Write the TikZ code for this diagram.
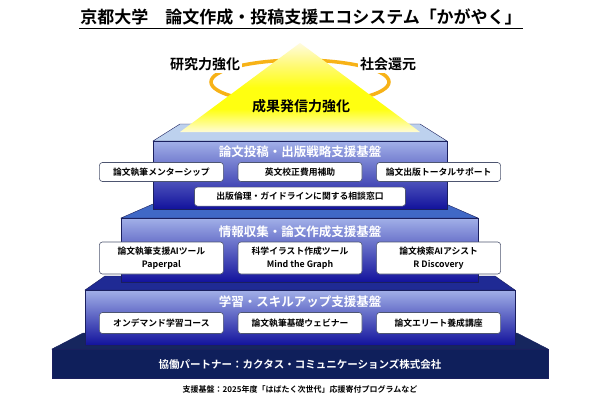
\documentclass[tikz,border=0pt]{standalone}
\usepackage{fontspec}
\setmainfont{Noto Sans CJK JP}[BoldFont={Noto Sans CJK JP Bold}]
\usetikzlibrary{positioning}

\definecolor{uptop}{HTML}{BDD1EE}
\definecolor{midtop}{HTML}{4068C6}
\definecolor{lowtop}{HTML}{1F2A94}
\definecolor{basetop}{HTML}{16265E}
\definecolor{basenavy}{HTML}{0F1F5B}
\definecolor{frontlight}{HTML}{A2B0E8}
\definecolor{frontdark}{HTML}{12129C}
\definecolor{edgeline}{HTML}{1A1F5E}
\definecolor{boxline}{HTML}{4D5570}
\definecolor{ringorange}{HTML}{F7B217}
\definecolor{apexpale}{HTML}{FFFBE0}
\definecolor{midyellow}{HTML}{FFFA70}
\definecolor{brightyellow}{HTML}{FFFF10}
\definecolor{basepale}{HTML}{FFFCD6}

% light of the pyramid top, bottom (25bp) to apex (75bp)
\pgfdeclareverticalshading{lightcone}{100bp}{color(0bp)=(basepale); color(25bp)=(basepale); color(38bp)=(brightyellow); color(50bp)=(brightyellow); color(62bp)=(midyellow); color(75bp)=(apexpale); color(100bp)=(apexpale)}

% one step of the pyramid: x0, x1, y of top face, y of front top, y of front bottom, inset, top colour, front style
\newcommand{\pyrstep}[8]{%
  \fill[#7, draw=edgeline, line width=0.4pt] (#1,#4) -- (#1+#6,#3) -- (#2-#6,#3) -- (#2,#4) -- cycle;
  \path[#8] (#1,#4) rectangle (#2,#5);
}

\begin{document}
\begin{tikzpicture}[x=1pt, y=-1pt,
					box/.style={rectangle, rounded corners=3pt, draw=boxline, line width=0.6pt, fill=white, minimum width=124pt, minimum height=19pt, inner sep=1pt, align=center, font=\bfseries\fontsize{8.8}{12.5}\selectfont},
					tallbox/.style={box, minimum height=32pt},
					layertitle/.style={text=white, font=\bfseries\fontsize{12.5}{14}\selectfont},
					goal/.style={text=black, font=\bfseries\fontsize{14}{16}\selectfont},
					front/.style={top color=frontlight, bottom color=frontdark, draw=edgeline, line width=0.5pt},
					basefront/.style={fill=basenavy, draw=edgeline, line width=0.5pt},
					ring/.style={draw=ringorange, line width=3.5pt}
					]
					\useasboundingbox (0,0) rectangle (600,400);
					\fill[white] (0,0) rectangle (600,400);
					
					% pyramid, bottom to top
					\pyrstep{52}{548}{333}{349}{378}{31}{basetop}{basefront}
					\pyrstep{85}{515}{276}{290}{345}{20}{lowtop}{front}
					\pyrstep{121}{478}{204}{218}{282}{32}{midtop}{front}
					\pyrstep{153}{447}{124}{141}{209}{27}{uptop}{front}
					
					% ring and light
					\draw[ring] (300,82) ellipse [x radius=89, y radius=22];
					\shade[shading=lightcone] (300,43) -- (180,132) -- (420,132) -- cycle;
					
					\node (title) [font=\bfseries\fontsize{17}{20}\selectfont, inner sep=1pt] at (301,17) {京都大学\quad 論文作成・投稿支援エコシステム「かがやく」};
					\draw[line width=1.3pt] ([yshift=-2pt]title.south west) -- ([yshift=-2pt]title.south east);
					
					\node (research) [goal, fill=white, inner sep=2pt] at (205,64) {研究力強化};
					\node (society) [goal, fill=white, inner sep=2pt] at (388,64) {社会還元};
					\node (outreach) [goal] at (301,106) {成果発信力強化};
					
					\node (pubtitle) [layertitle] at (300,152) {論文投稿・出版戦略支援基盤};
					\node (proofread) [box] at (300,172) {英文校正費用補助};
					\node (mentor) [box, left=14pt of proofread] {論文執筆メンターシップ};
					\node (support) [box, right=14pt of proofread] {論文出版トータルサポート};
					\node (ethics) [box, minimum width=211pt, below=5pt of proofread] {出版倫理・ガイドラインに関する相談窓口};
					
					\node (infotitle) [layertitle] at (300,232) {情報収集・論文作成支援基盤};
					\node (mindgraph) [tallbox] at (300,258) {科学イラスト作成ツール\\Mind the Graph};
					\node (paperpal) [tallbox, left=14pt of mindgraph] {論文執筆支援AIツール\\Paperpal};
					\node (rdisc) [tallbox, right=14pt of mindgraph] {論文検索AIアシスト\\R Discovery};
					
					\node (learntitle) [layertitle] at (300,302) {学習・スキルアップ支援基盤};
					\node (webinar) [box, minimum height=21pt] at (300,323) {論文執筆基礎ウェビナー};
					\node (ondemand) [box, minimum height=21pt, left=14pt of webinar] {オンデマンド学習コース};
					\node (elite) [box, minimum height=21pt, right=14pt of webinar] {論文エリート養成講座};
					
					\node (partner) [text=white, font=\bfseries\fontsize{10.5}{12}\selectfont] at (300,364) {協働パートナー：カクタス・コミュニケーションズ株式会社};
					\node (funding) [font=\bfseries\fontsize{8}{10}\selectfont] at (300,389) {支援基盤：2025年度「はばたく次世代」応援寄付プログラムなど};
				\end{tikzpicture}
\end{document}
